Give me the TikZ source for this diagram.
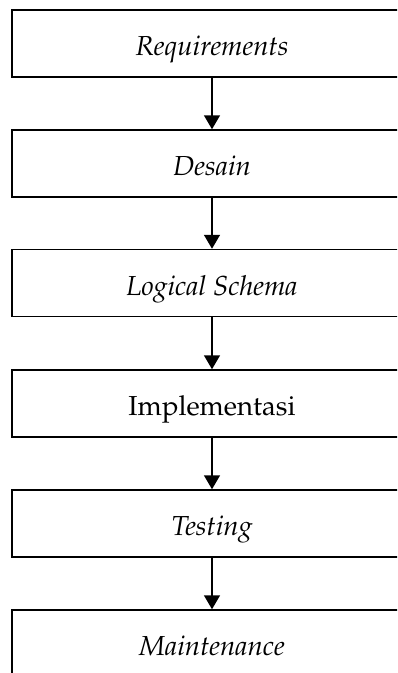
\documentclass[tikz,border=0pt]{standalone}
\usepackage[T1]{fontenc}
\usepackage{mathpazo}
\usetikzlibrary{arrows.meta}
\begin{document}
\begin{tikzpicture}[x=1pt,y=-1pt,
  stage/.style={draw, line width=1.5pt, minimum width=400pt, minimum height=67pt, inner sep=0pt, text height=31pt, text depth=7pt, font=\fontsize{27.5}{32}\selectfont},
  flow/.style={line width=1.5pt, -{Triangle[length=14pt,width=16pt]}}]
\useasboundingbox (0,0) rectangle (397,673);
\clip (0,0) rectangle (397,673);
\node[stage] (req) at (212,43.5) {\itshape Requirements};
\node[stage] (des) at (212,163.5) {\itshape Desain};
\node[stage] (log) at (212,283) {\itshape Logical Schema};
\node[stage] (imp) at (212,403.5) {Implementasi};
\node[stage] (tes) at (212,523.5) {\itshape Testing};
\node[stage] (mai) at (212,643.5) {\itshape Maintenance};
\draw[flow] (req) -- (des);
\draw[flow] (des) -- (log);
\draw[flow] (log) -- (imp);
\draw[flow] (imp) -- (tes);
\draw[flow] (tes) -- (mai);
\end{tikzpicture}
\end{document}
